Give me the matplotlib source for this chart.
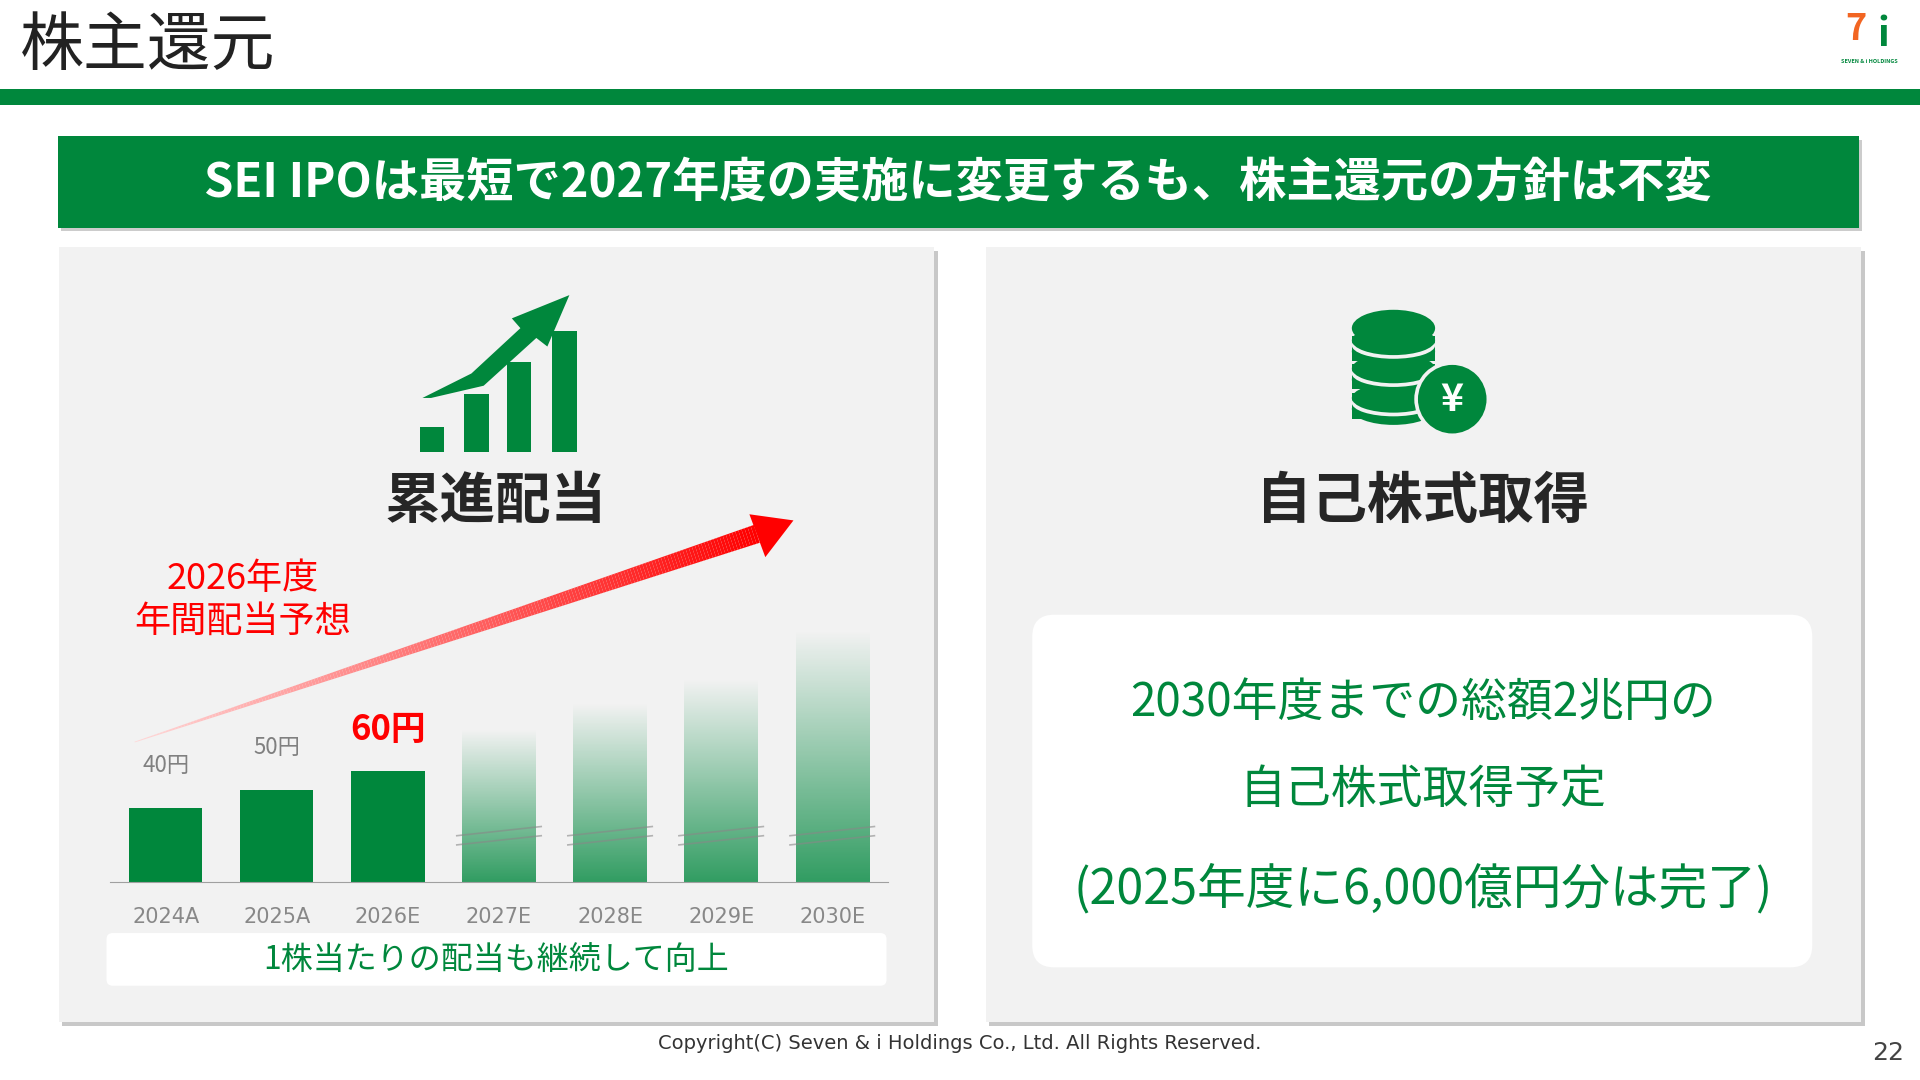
import matplotlib.pyplot as plt
import matplotlib.patches as mpatches
from matplotlib.colors import LinearSegmentedColormap
import numpy as np

plt.rcParams['font.family'] = ['Noto Sans CJK JP', 'DejaVu Sans']

GREEN = "#00873c"
RED = "#ff0000"

years = ["2024A", "2025A", "2026E", "2027E", "2028E", "2029E", "2030E"]
dividends = [40, 50, 60]
future_heights = [83, 97, 110, 137]   # illustrative bars, no value shown
value_labels = ["40円", "50円", "60円"]

# slide in "display" units 1568 x 882, y downwards
W, H = 1568, 882
fig = plt.figure(figsize=(19.2, 10.8), dpi=100)
fig.patch.set_facecolor("white")
ax = fig.add_axes([0, 0, 1, 1])
ax.set_xlim(0, W)
ax.set_ylim(H, 0)
ax.axis("off")

def rect(x0, y0, x1, y1, **kw):
    ax.add_patch(mpatches.Rectangle((x0, y0), x1 - x0, y1 - y0, **kw))

# header
ax.text(16, 38, "株主還元", fontsize=46, va="center", ha="left", color="#222")
rect(0, 73, W, 86, color=GREEN, lw=0)
# logo
ax.text(1516, 24, "7", fontsize=26, fontweight="bold", color="#f26522", ha="center", va="center", style="italic")
ax.text(1538, 28, "i", fontsize=28, fontweight="bold", color=GREEN, ha="center", va="center", style="italic")
ax.text(1527, 50, "SEVEN & i HOLDINGS", fontsize=4, color=GREEN, ha="center", va="center", fontweight="bold")

# banner
rect(50, 114, 1521, 189, color="#cccccc", lw=0)
rect(47, 111, 1518, 186, color=GREEN, lw=0)
ax.text(782, 150, "SEI IPOは最短で2027年度の実施に変更するも、株主還元の方針は不変",
        fontsize=34, fontweight="bold", color="white", ha="center", va="center")

# panels with shadow
for x0, x1 in [(48, 763), (805, 1520)]:
    rect(x0 + 3, 205, x1 + 3, 838, color="#c8c8c8", lw=0)
    rect(x0, 202, x1, 835, color="#f2f2f2", lw=0)

# bar chart icon
for bx_, top in zip([343, 379, 414, 451], [349, 322, 296, 270]):
    rect(bx_, top, bx_ + 20, 369, color=GREEN, lw=0)
ax.fill([345, 385, 425, 418, 465, 447, 438, 395, 352],
        [325, 305, 268, 260, 241, 283, 276, 315, 325], color=GREEN, lw=0)
ax.text(405, 410, "累進配当", fontsize=40, fontweight="bold", color="#262626", ha="center", va="center")

# coin icon
for cy in [334, 310, 287]:
    ax.add_patch(mpatches.Ellipse((1138, cy), 68, 26, color=GREEN, lw=0))
    rect(1104, cy - 13, 1172, cy + 8, color=GREEN, lw=0)
    ax.add_patch(mpatches.Ellipse((1138, cy - 5), 68, 22, color="#f2f2f2", lw=0))
    ax.add_patch(mpatches.Ellipse((1138, cy - 9), 68, 24, color=GREEN, lw=0))
ax.add_patch(mpatches.Ellipse((1138, 268), 68, 30, color=GREEN, lw=0))
ax.add_patch(mpatches.Ellipse((1186, 326), 62, 62, color="#f2f2f2", lw=0))
ax.add_patch(mpatches.Ellipse((1186, 326), 56, 56, color=GREEN, lw=0))
ax.text(1186, 326, "¥", fontsize=28, color="white", ha="center", va="center", fontweight="bold")
ax.text(1162, 410, "自己株式取得", fontsize=40, fontweight="bold", color="#262626", ha="center", va="center")

# right white box
ax.add_patch(mpatches.FancyBboxPatch((853, 512), 617, 268, boxstyle="round,pad=10,rounding_size=18",
                                     fc="white", ec="none"))
ax.text(1162, 574, "2030年度までの総額2兆円の", fontsize=33, color=GREEN, ha="center", va="center")
ax.text(1162, 645, "自己株式取得予定", fontsize=33, color=GREEN, ha="center", va="center")
ax.text(1162, 726, "(2025年度に6,000億円分は完了)", fontsize=35, color=GREEN, ha="center", va="center")

# bottom white box left
ax.add_patch(mpatches.FancyBboxPatch((90, 765), 631, 37, boxstyle="round,pad=3,rounding_size=5",
                                     fc="white", ec="none"))
ax.text(405, 785, "1株当たりの配当も継続して向上", fontsize=23, color=GREEN, ha="center", va="center")

# red arrow (gradient body)
x0, y0, x1, y1 = 110, 606, 618, 436
n = 200
for i in range(n):
    t0, t1 = i / n, (i + 1) / n
    c = (1.0, 0.85 - 0.85 * t1, 0.85 - 0.85 * t1)
    ax.plot([x0 + (x1 - x0) * t0, x0 + (x1 - x0) * t1],
            [y0 + (y1 - y0) * t0, y0 + (y1 - y0) * t1],
            color=c, lw=0.5 + 13 * t1, solid_capstyle="butt")
ax.fill([648, 612, 625], [425, 420, 455], color=RED, lw=0)
ax.text(198, 473, "2026年度", fontsize=26, color=RED, ha="center", va="center")
ax.text(198, 508, "年間配当予想", fontsize=26, color=RED, ha="center", va="center")

# footer
ax.text(784, 852, "Copyright(C) Seven & i Holdings Co., Ltd. All Rights Reserved.",
        fontsize=14, color="#333", ha="center", va="center", family=["DejaVu Sans"])
ax.text(1555, 860, "22", fontsize=18, color="#444", ha="right", va="center", family=["DejaVu Sans"])

# bar chart in its own axes
bx = fig.add_axes([90 / W, (H - 720) / H, 635 / W, 220 / H])
bx.set_xlim(-0.5, 6.5)
bx.set_ylim(0, 220 / 1.5)
bx.patch.set_alpha(0)
for s in ["top", "right", "left"]:
    bx.spines[s].set_visible(False)
bx.spines["bottom"].set_color("#a0a0a0")
bx.set_yticks([])
bx.set_xticks(range(len(years)))
bx.set_xticklabels(years, fontsize=15, color="#888888", family=["DejaVu Sans"])
bx.tick_params(axis="x", length=0, pad=18)

wd = 0.66
bx.bar(range(3), dividends, width=wd, color=GREEN)
for i, (v, lab) in enumerate(zip(dividends, value_labels)):
    if i == 2:
        bx.text(i, v + 23, lab, fontsize=25, fontweight="bold", color=RED, ha="center", va="center")
    else:
        bx.text(i, v + 23, lab, fontsize=16, color="#808080", ha="center", va="center")

cmap = LinearSegmentedColormap.from_list("g", [(0, (0, 0.53, 0.24, 0.8)), (1, (0, 0.53, 0.24, 0.0))])
grad = np.linspace(0, 1, 256).reshape(-1, 1)
for j, h in enumerate(future_heights):
    i = 3 + j
    bx.imshow(grad, cmap=cmap, extent=[i - wd / 2, i + wd / 2, 0, h], origin="lower",
              aspect="auto", zorder=2)
    for dy in [0, 5]:
        bx.plot([i - 0.38, i + 0.38], [20 + dy, 25 + dy], color="#888888", lw=1.2, alpha=0.6, zorder=3)
bx.set_xlim(-0.5, 6.5)
bx.set_ylim(0, 220 / 1.5)

fig.savefig("out.png", dpi=100, facecolor="white")
